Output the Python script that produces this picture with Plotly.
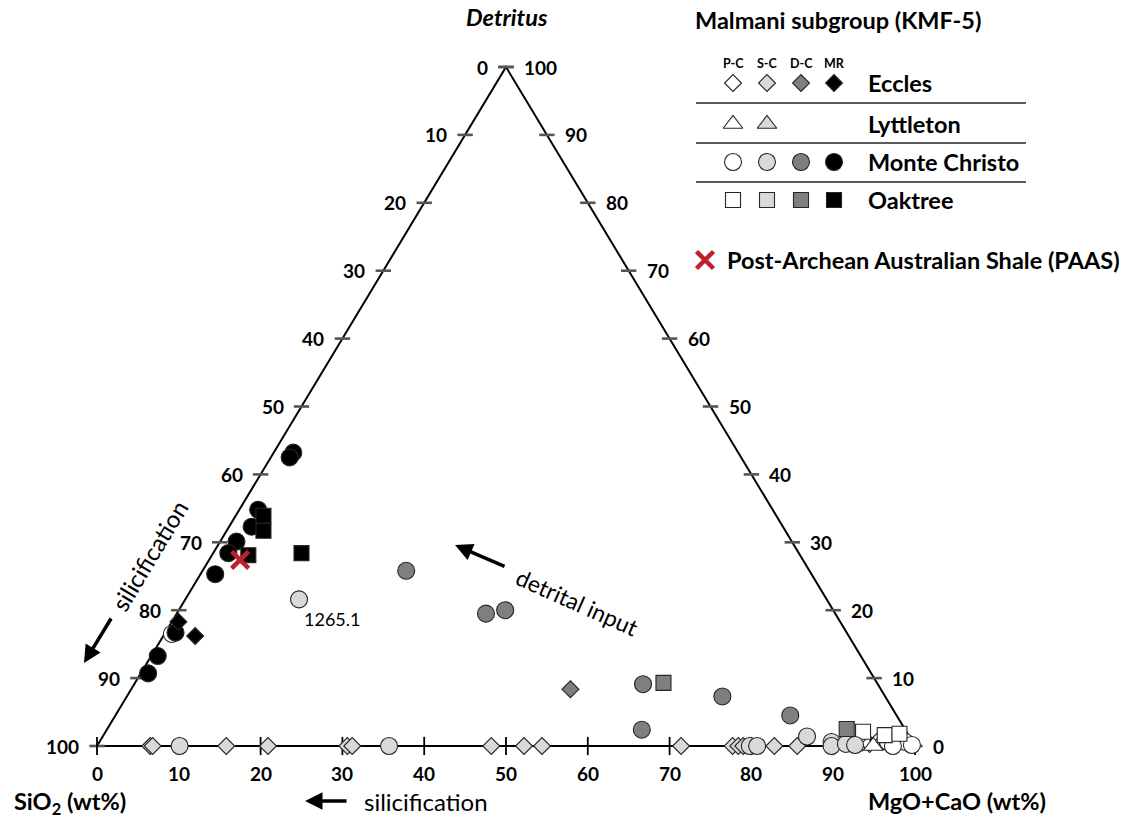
import plotly.graph_objects as go

# ---- Sample compositions (wt%): detritus and MgO+CaO; SiO2 is the remainder ----
# Monte Christo
mc_pc_det = [16.5, 0.6, 0.6, 0.15, 0.0]
mc_pc_carb = [0.9, 96.4, 98.5, 99.55, 97.3]
mc_sc_det = [21.6, 1.4, 0.0, 0.0, 0.0, 0.0, 0.6, 0.0, 0.3, 0.15]
mc_sc_carb = [13.9, 86.1, 10.1, 35.7, 79.8, 80.7, 89.5, 89.8, 91.4, 92.6]
mc_dc_det = [25.8, 19.5, 20.0, 9.1, 2.4, 7.3, 4.5]
mc_dc_carb = [24.9, 37.8, 39.9, 62.2, 65.4, 72.8, 82.5]
mc_mr_det = [43.2, 42.5, 34.8, 32.3, 30.1, 28.4, 25.3, 16.7, 13.25, 10.7]
mc_mr_carb = [2.4, 2.3, 2.3, 2.75, 2.0, 1.85, 1.8, 1.25, 0.8, 0.9]
# Eccles
ec_pc_det = [0.5, 0.3, 0.8, 0.6, 0.3, 0.2, 0.4]
ec_pc_carb = [93.3, 94.3, 95.1, 95.7, 96.5, 97.6, 98.8]
ec_sc_det = [0.0] * 15
ec_sc_carb = [6.5, 6.8, 15.8, 20.9, 30.6, 31.2, 48.2, 52.2, 54.4, 71.4, 77.7, 78.4, 79.0, 82.8, 85.6]
ec_dc_det = [8.35]
ec_dc_carb = [53.7]
ec_mr_det = [18.3, 16.2]
ec_mr_carb = [0.8, 3.9]
# Lyttleton
ly_pc_det = [0.0, 0.45, 0.3]
ly_pc_carb = [94.9, 97.6, 99.2]
ly_sc_det = [0.0]
ly_sc_carb = [92.3]
# Oaktree
oa_pc_det = [2.1, 1.6, 1.8]
oa_pc_carb = [92.6, 95.5, 97.2]
oa_dc_det = [9.3, 2.5]
oa_dc_carb = [64.6, 90.4]
oa_mr_det = [33.9, 31.7, 28.1, 28.4]
oa_mr_carb = [3.4, 4.5, 4.45, 10.8]
# Post-Archean Australian Shale
paas_det = [27.4]
paas_carb = [3.8]
paas_label = "Post-Archean Australian Shale (PAAS)"
sample_label = "1265.1"

tick_vals = list(range(0, 101, 10))
facies = ["P-C", "S-C", "D-C", "MR"]
units = ["Eccles", "Lyttleton", "Monte Christo", "Oaktree"]

FILL = {"P-C": "#ffffff", "S-C": "#d9d9d9", "D-C": "#7f7f7f", "MR": "#000000"}
SYMBOL = {"Eccles": ("diamond", 13), "Lyttleton": ("triangle-up", 17),
          "Monte Christo": ("circle", 17), "Oaktree": ("square", 15)}
FONT = "Lato, 'Open Sans', sans-serif"


def tern_xy(det, carb):
    """Cartesian position inside the triangle (SiO2 left, MgO+CaO right, detritus top)."""
    xs = [c + d / 2.0 for d, c in zip(det, carb)]
    return xs, list(det)


fig = go.Figure()

# ---- triangle frame and ticks ----
fx, fy = tern_xy([0, 0, 100, 0], [0, 100, 0, 0])
fig.add_trace(go.Scatter(x=fx, y=fy, mode="lines", line=dict(color="black", width=2),
                         hoverinfo="skip"))
# left edge (SiO2) and right edge (detritus) ticks
lx, ly = tern_xy([100 - v for v in tick_vals], [0] * len(tick_vals))
rx, ry = tern_xy(tick_vals, [100 - v for v in tick_vals])
fig.add_trace(go.Scatter(x=lx + rx, y=ly + ry, mode="markers", hoverinfo="skip",
                         marker=dict(symbol="line-ew", size=11,
                                     line=dict(color="#555555", width=2.6))))
# bottom edge (MgO+CaO) ticks
bx, by = tern_xy([0] * len(tick_vals), tick_vals)
fig.add_trace(go.Scatter(x=bx, y=by, mode="markers", hoverinfo="skip",
                         marker=dict(symbol="line-ns", size=13,
                                     line=dict(color="black", width=1.8))))

# ---- samples ----
series = [
    ("Eccles", "P-C", ec_pc_det, ec_pc_carb),
    ("Lyttleton", "P-C", ly_pc_det, ly_pc_carb),
    ("Monte Christo", "P-C", mc_pc_det, mc_pc_carb),
    ("Oaktree", "P-C", oa_pc_det, oa_pc_carb),
    ("Eccles", "S-C", ec_sc_det, ec_sc_carb),
    ("Lyttleton", "S-C", ly_sc_det, ly_sc_carb),
    ("Monte Christo", "S-C", mc_sc_det, mc_sc_carb),
    ("Eccles", "D-C", ec_dc_det, ec_dc_carb),
    ("Monte Christo", "D-C", mc_dc_det, mc_dc_carb),
    ("Oaktree", "D-C", oa_dc_det, oa_dc_carb),
    ("Monte Christo", "MR", mc_mr_det, mc_mr_carb),
    ("Eccles", "MR", ec_mr_det, ec_mr_carb),
    ("Oaktree", "MR", oa_mr_det, oa_mr_carb),
]
for unit, fac, det, carb in series:
    sx, sy = tern_xy(det, carb)
    sym, size = SYMBOL[unit]
    fig.add_trace(go.Scatter(
        x=sx, y=sy, mode="markers", name=f"{unit} {fac}",
        marker=dict(symbol=sym, size=size, color=FILL[fac],
                    line=dict(color="#262626", width=1.1))))

px_, py_ = tern_xy(paas_det, paas_carb)
fig.add_trace(go.Scatter(x=px_, y=py_, mode="markers", name="PAAS",
                         marker=dict(symbol="x-thin", size=17,
                                     line=dict(color="#c0202c", width=4.5))))

# ---- legend block (pixel-space overlay axes) ----
col_x = [733, 767, 801, 834]
row_y = [83, 124, 162, 200]
facies_per_unit = {"Eccles": 4, "Lyttleton": 2, "Monte Christo": 4, "Oaktree": 4}
for unit, yy in zip(units, row_y):
    sym, size = SYMBOL[unit]
    n = facies_per_unit[unit]
    fig.add_trace(go.Scatter(
        x=col_x[:n], y=[yy] * n, xaxis="x2", yaxis="y2", mode="markers",
        hoverinfo="skip",
        marker=dict(symbol=sym, size=size, color=[FILL[f] for f in facies[:n]],
                    line=dict(color="#262626", width=1.1))))
fig.add_trace(go.Scatter(x=[705], y=[260], xaxis="x2", yaxis="y2", mode="markers",
                         hoverinfo="skip",
                         marker=dict(symbol="x-thin", size=17,
                                     line=dict(color="#c0202c", width=4.5))))

ann = []
bold = dict(family=FONT, size=19, color="black")

# tick labels
for v, x, y in zip(tick_vals, lx, ly):
    ann.append(dict(x=x, y=y, xref="x", yref="y", text=f"<b>{v}</b>", showarrow=False,
                    xanchor="right", xshift=-16, font=bold))
for v, x, y in zip(tick_vals, rx, ry):
    ann.append(dict(x=x, y=y, xref="x", yref="y", text=f"<b>{v}</b>", showarrow=False,
                    xanchor="left", xshift=16, font=bold))
for v, x, y in zip(tick_vals, bx, by):
    ann.append(dict(x=x, y=y, xref="x", yref="y", text=f"<b>{v}</b>", showarrow=False,
                    yanchor="middle", yshift=-27, font=bold))

# sample label
lx1, ly1 = tern_xy(mc_sc_det[:1], mc_sc_carb[:1])
ann.append(dict(x=lx1[0], y=ly1[0], xref="x", yref="y", text=sample_label, showarrow=False,
                xanchor="left", xshift=3, yshift=-20,
                font=dict(family=FONT, size=18, color="black")))

big_bold = dict(family=FONT, size=23.5, color="black")
reg = dict(family=FONT, size=24, color="black")


def pix(x, y, text, font, **kw):
    d = dict(x=x, y=y, xref="x2", yref="y2", text=text, showarrow=False, font=font)
    d.update(kw)
    ann.append(d)


def arrow(tail, head):
    ann.append(dict(x=head[0], y=head[1], xref="x2", yref="y2", ax=tail[0], ay=tail[1],
                    axref="x2", ayref="y2", text="", showarrow=True, arrowhead=2,
                    arrowsize=1.0, arrowwidth=3.5, arrowcolor="black"))


pix(507, 17, "<b><i>Detritus</i></b>", big_bold)
pix(12, 803, "<b>SiO<sub>2</sub> (wt%)</b>", big_bold, xanchor="left")
pix(866, 801, "<b>MgO+CaO (wt%)</b>", big_bold, xanchor="left")
pix(362, 801, "silicification", reg, xanchor="left")
arrow((348, 801), (305, 801))
pix(149, 555, "silicification", reg, textangle=-59)
arrow((112, 617), (84, 663))
pix(577, 602, "detrital input", dict(family=FONT, size=23, color="black"), textangle=24)
arrow((506, 567), (455, 545))

# legend text
pix(838, 20, "<b>Malmani subgroup (KMF-5)</b>", big_bold)
for f, x in zip(facies, col_x):
    pix(x, 63, f"<b>{f}</b>", dict(family=FONT, size=12.5, color="black"))
for unit, yy in zip(units, row_y):
    pix(866, yy, f"<b>{unit}</b>", big_bold, xanchor="left")
pix(725, 260, f"<b>{paas_label}</b>", big_bold, xanchor="left")

shapes = [dict(type="line", xref="x2", yref="y2", x0=696, x1=1026, y0=yy, y1=yy,
               line=dict(color="#262626", width=1.5)) for yy in (103, 143, 182)]

# plot area spans the full page; ranges place the triangle
fig.update_layout(
    width=1121, height=825,
    margin=dict(l=0, r=0, t=0, b=0),
    paper_bgcolor="white", plot_bgcolor="white",
    showlegend=False,
    xaxis=dict(range=[-97 / 8.18, (1121 - 97) / 8.18], visible=False, fixedrange=True),
    yaxis=dict(range=[-(825 - 746) / 6.79, 100 + 67 / 6.79], visible=False, fixedrange=True),
    xaxis2=dict(range=[0, 1121], overlaying="x", visible=False, fixedrange=True),
    yaxis2=dict(range=[825, 0], overlaying="y", visible=False, fixedrange=True),
    annotations=ann,
    shapes=shapes,
)

fig.write_html("out.html")
